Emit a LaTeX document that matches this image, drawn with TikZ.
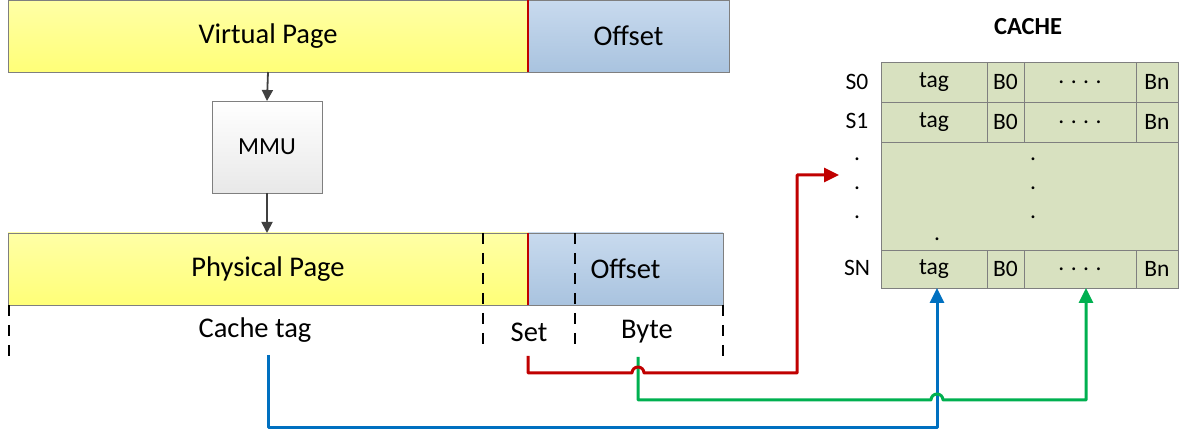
\documentclass[tikz,border=0pt]{standalone}
\usepackage{fontspec}
\setmainfont{Carlito}
\usetikzlibrary{arrows.meta}
\definecolor{ytop}{HTML}{FFFFA6}
\definecolor{ybot}{HTML}{FFFF78}
\definecolor{btop}{HTML}{C8DAEE}
\definecolor{bbot}{HTML}{A9C3DF}
\definecolor{cfill}{HTML}{D8E1C0}
\definecolor{bord}{HTML}{7F7F7F}
\definecolor{rline}{HTML}{C00000}
\definecolor{gline}{HTML}{00B050}
\definecolor{bline}{HTML}{0070C0}
\definecolor{dark}{HTML}{404040}
\tikzset{
  big/.style={font=\fontsize{28.5}{32}\selectfont},
  mid/.style={font=\fontsize{23.5}{27}\selectfont},
  ybar/.style={draw=bord, line width=0.8pt, top color=ytop, bottom color=ybot, inner sep=0, outer sep=0, big},
  bbar/.style={draw=bord, line width=0.8pt, top color=btop, bottom color=bbot, inner sep=0, outer sep=0, big},
  mmubox/.style={draw=bord, line width=0.8pt, top color=white, bottom color=black!9, inner sep=0, outer sep=0, minimum width=110, minimum height=92, font=\fontsize{24.5}{28}\selectfont},
  cell/.style={draw=bord, line width=0.8pt, fill=cfill, inner sep=0, outer sep=0, minimum height=40, mid},
  blk/.style={draw=dark, line width=1.8pt, -{Triangle[length=11pt,width=11pt]}},
  conn/.style={line width=3pt, line join=round, -{Triangle[length=15pt,width=14pt]}},
  dsh/.style={black, line width=1.8pt, dash pattern=on 11pt off 9pt},
  lbl/.style={big, inner sep=0},
  dotlbl/.style={mid, anchor=base, inner sep=0},
}
\newcommand{\fourdots}{.\hspace{6.5pt}.\hspace{6.5pt}.\hspace{6.5pt}.}
\begin{document}
\begin{tikzpicture}[x=1pt,y=-1pt]
\useasboundingbox (0,0) rectangle (1179,435);
% virtual address
\node[ybar, minimum width=520, minimum height=72] (vp) at (268,36) {Virtual Page};
\node[bbar, minimum width=201, minimum height=72] (vo) at (628.5,36) {Offset};
\draw[rline, line width=1.5pt] (vp.north east) -- (vp.south east);
% MMU
\node[mmubox] (mmu) at (267,147) {MMU};
% physical address
\node[ybar, minimum width=520, minimum height=72] (pp) at (268,269) {Physical Page};
\node[bbar, minimum width=195, minimum height=72] (po) at (625.5,269) {Offset};
\draw[rline, line width=1.5pt] (pp.north east) -- (pp.south east);
% arrows
\draw[blk] (vp.south) -- (mmu.north);
\draw[blk] (mmu.south) -- (pp.north -| mmu.south);
% dashed separators
\coordinate (d1a) at (9,305); \coordinate (d1b) at (9,356);
\coordinate (d2a) at (483,233); \coordinate (d2b) at (483,350);
\coordinate (d3a) at (575,233); \coordinate (d3b) at (575,350);
\coordinate (d4a) at (723,305); \coordinate (d4b) at (723,356);
\draw[dsh] (d1a) -- (d1b);
\draw[dsh] (d2a) -- (d2b);
\draw[dsh] (d3a) -- (d3b);
\draw[dsh] (d4a) -- (d4b);
% field labels
\node[lbl] (ctag) at (255,330) {Cache tag};
\node[lbl] (set) at (529,332) {Set};
\node[lbl] (byte) at (647,332) {Byte};
% cache
\node[font=\bfseries\fontsize{24.5}{28}\selectfont] (cache) at (1028,27) {CACHE};
\node[cell, minimum width=106] (t0) at (934,82) {tag};
\node[cell, minimum width=37] (b0) at (1005.5,82) {B0};
\node[cell, minimum width=112] (d0) at (1080,82) {\fourdots};
\node[cell, minimum width=42] (n0) at (1157,82) {Bn};
\node[cell, minimum width=106] (t1) at (934,122) {tag};
\node[cell, minimum width=37] (b1) at (1005.5,122) {B0};
\node[cell, minimum width=112] (d1) at (1080,122) {\fourdots};
\node[cell, minimum width=42] (n1) at (1157,122) {Bn};
\node[cell, minimum width=297, minimum height=108] (midc) at (1029.5,196) {};
\node[cell, minimum width=106, minimum height=38] (tn) at (934,269) {tag};
\node[cell, minimum width=37, minimum height=38] (bn) at (1005.5,269) {B0};
\node[cell, minimum width=112, minimum height=38] (dn) at (1080,269) {\fourdots};
\node[cell, minimum width=42, minimum height=38] (nn) at (1157,269) {Bn};
% row labels
\node[mid] (s0) at (857,82) {S0};
\node[mid] (s1) at (857,121) {S1};
\node[mid] (sn) at (857,268) {SN};
\node[dotlbl] (r1) at (857,161) {.};
\node[dotlbl] (r2) at (857,190) {.};
\node[dotlbl] (r3) at (857,219) {.};
\node[dotlbl] (m1) at (1033,161) {.};
\node[dotlbl] (m2) at (1033,190) {.};
\node[dotlbl] (m3) at (1033,219) {.};
\node[dotlbl] (m4) at (937,241) {.};
% connectors
\coordinate (rs) at (528,356);
\coordinate (rtip) at (839,175);
\coordinate (gs) at (638,357);
\coordinate (bs) at (268,355);
\draw[conn, bline] (bs) -- (268,428) -- (937,428) -- ([xshift=3pt]tn.south);
\draw[conn, gline] (gs) -- (638,400) -- (931,400) arc (180:360:6) -- (1086,400) -- ([xshift=6pt]dn.south);
\draw[conn, rline] (rs) -- (528,373) -- (632,373) arc (180:360:6) -- (797,373) -- (797,175) -- (rtip);
\end{tikzpicture}
\end{document}
